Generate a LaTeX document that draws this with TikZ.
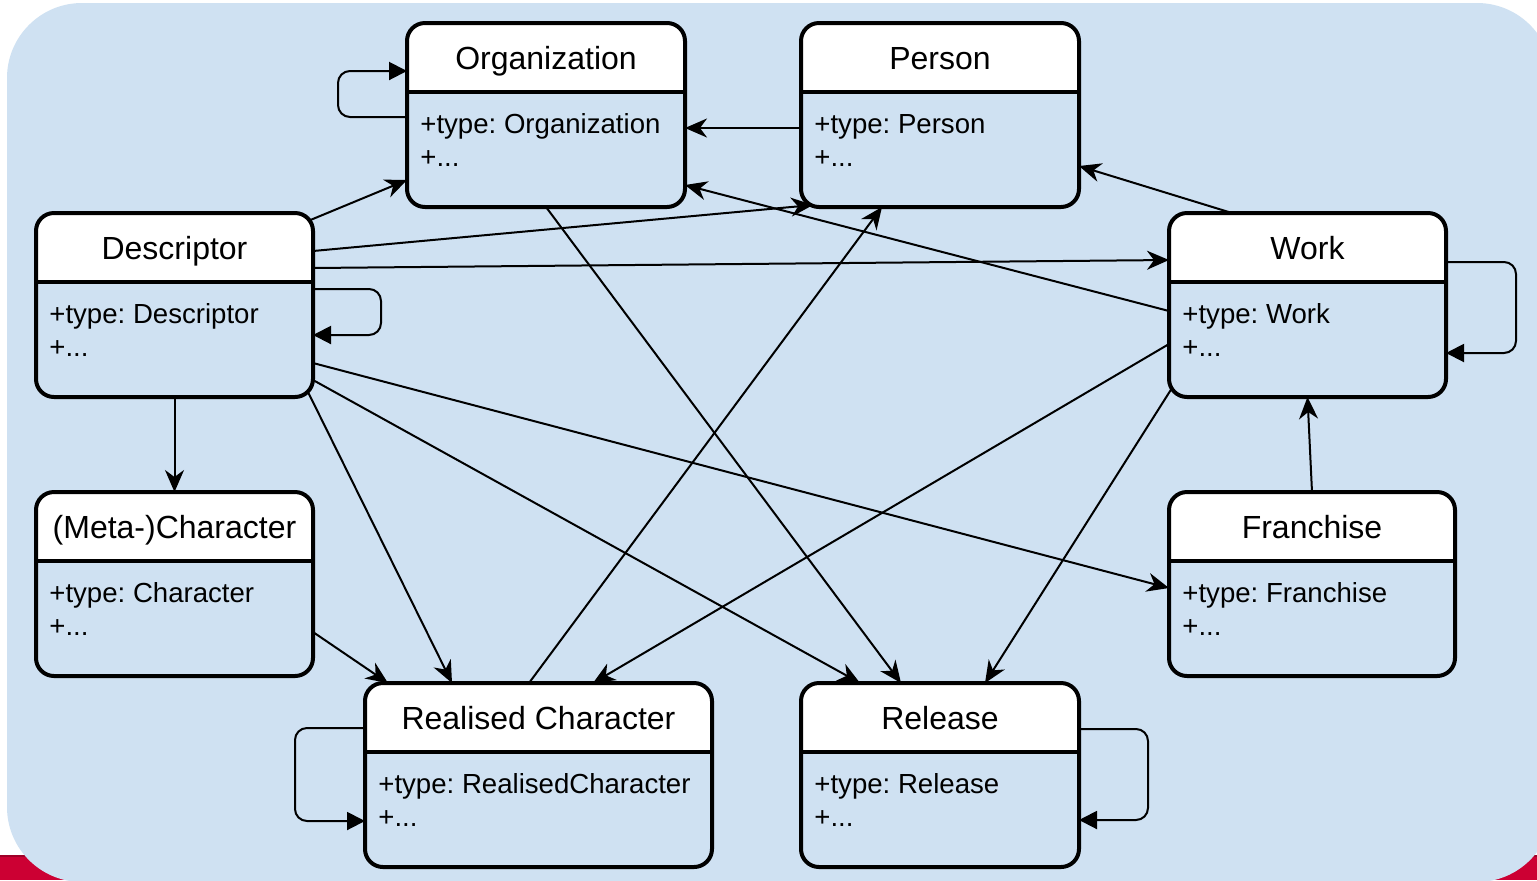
\documentclass[tikz,border=0pt]{standalone}
\usepackage{fontspec}
\setmainfont{Liberation Sans}
\usetikzlibrary{arrows.meta,calc}
\frenchspacing

\definecolor{panel}{HTML}{CFE1F2}
\definecolor{band}{HTML}{CC0033}
\definecolor{bandedge}{HTML}{9E0028}

\tikzset{
  classshape/.style={rectangle, inner sep=0pt, outer sep=0pt, minimum height=92pt},
  boxline/.style={line width=2pt, black},
  titletext/.style={font=\fontsize{16}{19}\selectfont, anchor=base, inner sep=0pt},
  bodytext/.style={font=\fontsize{13.8}{16}\selectfont, anchor=base west, inner sep=0pt},
  link/.style={line width=1pt, -{Stealth[length=11pt,width=9.5pt,inset=3.5pt]}},
  selfloop/.style={line width=1pt, rounded corners=6pt, -{Triangle[length=9pt,width=9pt]}},
}

% UML class box: name, centre, width, title, attribute line
\newcommand\umlclass[5]{%
  \node[classshape, minimum width=#3] (#1) at #2 {};
  \begin{scope}
    \clip[rounded corners=9pt] (#1.north west) rectangle (#1.south east);
    \fill[white] (#1.north west) rectangle ([shift={(0,69)}]#1.north east);
  \end{scope}
  \draw[boxline, rounded corners=9pt] (#1.north west) rectangle (#1.south east);
  \draw[boxline] ([shift={(0,69)}]#1.north west) -- ([shift={(0,69)}]#1.north east);
  \node[titletext] (#1-title) at ([shift={(0,46)}]#1.north) {#4};
  \node[bodytext] (#1-attr) at ([shift={(13,110)}]#1.north west) {#5};
  \node[bodytext] (#1-more) at ([shift={(13,143)}]#1.north west) {+...};
}

\begin{document}
\begin{tikzpicture}[x=0.5pt, y=-0.5pt]
  \useasboundingbox (0,0) rectangle (1537,880);
  \fill[white] (0,0) rectangle (1537,880);
  \fill[band] (0,855) rectangle (1537,880);
  \draw[bandedge, line width=1pt] (0,855.5) -- (1537,855.5);
  \begin{scope}
    \clip (0,0) rectangle (1537,880);
    \fill[panel, rounded corners=37.5pt] (7,3) rectangle (1552,882);
  \end{scope}

  % classes
  \umlclass{org}{(546,115)}{139pt}{Organization}{+type: Organization}
  \umlclass{person}{(940,115)}{139pt}{Person}{+type: Person}
  \umlclass{desc}{(174.5,305)}{138.5pt}{Descriptor}{+type: Descriptor}
  \umlclass{work}{(1307.5,305)}{138.5pt}{Work}{+type: Work}
  \umlclass{meta}{(174.5,584)}{138.5pt}{(Meta-)Character}{+type: Character}
  \umlclass{franchise}{(1312,584)}{143pt}{Franchise}{+type: Franchise}
  \umlclass{realised}{(538.5,775)}{173.5pt}{Realised Character}{+type: RealisedCharacter}
  \umlclass{release}{(940,775)}{139pt}{Release}{+type: Release}

  % self references
  \draw[selfloop] ([shift={(0,94)}]org.north west) -| ([shift={(-69,48)}]org.north west) -- ([shift={(0,48)}]org.north west);
  \draw[selfloop] ([shift={(0,76)}]desc.north east) -| ([shift={(68,122)}]desc.north east) -- ([shift={(0,122)}]desc.north east);
  \draw[selfloop] ([shift={(0,49)}]work.north east) -| ([shift={(70,140)}]work.north east) -- ([shift={(0,140)}]work.north east);
  \draw[selfloop] ([shift={(0,45)}]realised.north west) -| ([shift={(-70,138)}]realised.north west) -- ([shift={(0,138)}]realised.north west);
  \draw[selfloop] ([shift={(0,46)}]release.north east) -| ([shift={(69,137)}]release.north east) -- ([shift={(0,137)}]release.north east);

  % associations
  \draw[link] ([shift={(0,105)}]person.north west) -- ([shift={(0,105)}]org.north east);
  \draw[link] ([shift={(-5,8)}]desc.north east) -- ([shift={(0,157)}]org.north west);
  \draw[link] ([shift={(0,38)}]desc.north east) -- ([shift={(12,-2)}]person.south west);
  \draw[link] ([shift={(0,55)}]desc.north east) -- ([shift={(0,47)}]work.north west);
  \draw[link] ([shift={(0,98)}]work.north west) -- ([shift={(0,162)}]org.north east);
  \draw[link] ([shift={(63,0)}]work.north west) -- ([shift={(0,143)}]person.north east);
  \draw[link] (desc.south) -- (meta.north);
  \draw[link] ([shift={(0,150)}]desc.north east) -- ([shift={(0,96)}]franchise.north west);
  \draw[link] ([shift={(0,167)}]desc.north east) -- ([shift={(59,0)}]release.north west);
  \draw[link] ([shift={(-5,-5)}]desc.south east) -- ([shift={(87,0)}]realised.north west);
  \draw[link] ([shift={(0,140)}]meta.north east) -- ([shift={(23,0)}]realised.north west);
  \draw[link] (org.south) -- ([shift={(100,0)}]release.north west);
  \draw[link] ([shift={(164,0)}]realised.north west) -- ([shift={(81,0)}]person.south west);
  \draw[link] ([shift={(0,131)}]work.north west) -- ([shift={(228,0)}]realised.north west);
  \draw[link] ([shift={(3,-9)}]work.south west) -- ([shift={(184,0)}]release.north west);
  \draw[link] (franchise.north) -- (work.south);
\end{tikzpicture}
\end{document}
